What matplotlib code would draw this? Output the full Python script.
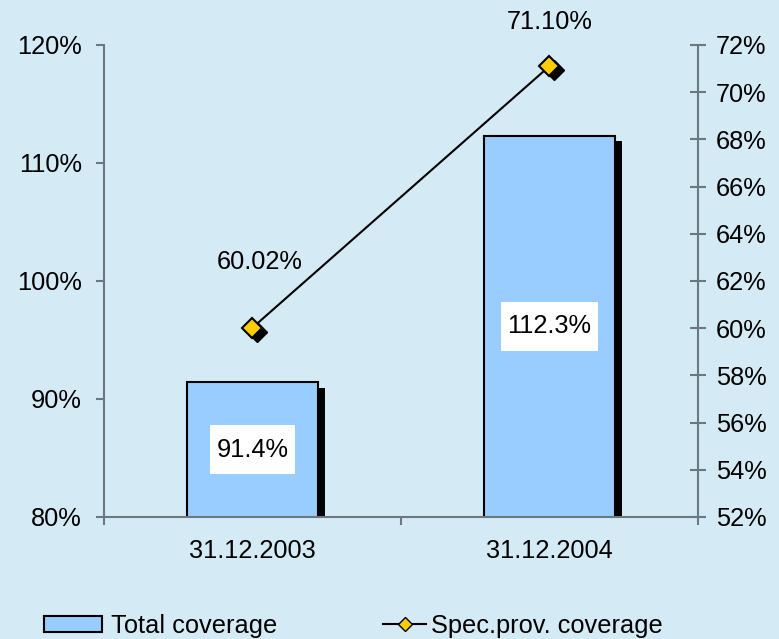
import matplotlib.pyplot as plt
import numpy as np
from matplotlib.transforms import ScaledTranslation
from matplotlib.path import Path
from matplotlib.lines import Line2D
from matplotlib.patches import Patch

plt.rcParams['font.family'] = ['Liberation Sans', 'DejaVu Sans']
plt.rcParams['font.size'] = 18.3

# data
dates = ['31.12.2003', '31.12.2004']
total_cov = [91.4, 112.3]      # left axis, bars
spec_cov = [60.02, 71.10]      # right axis, line
left_ticks = [80, 90, 100, 110, 120]
right_ticks = list(range(52, 73, 2))

bg = '#d4eaf5'
grey = '#6b7880'
bar_col = '#99ccff'
gold = '#ffcc00'


# white label box, wider pad vertically than horizontally
def label_box(x0, y0, width, height, mutation_size):
    px, py = 0.26 * mutation_size, 0.5 * mutation_size
    xa, ya = x0 - px, y0 - py
    xb, yb = x0 + width + px, y0 + height + py
    return Path([(xa, ya), (xb, ya), (xb, yb), (xa, yb), (xa, ya)], closed=True)


fig = plt.figure(figsize=(7.79, 6.39), dpi=100, facecolor=bg)
ax = fig.add_axes([0.1335, 0.191, 0.7625, 0.7387])
ax.set_facecolor(bg)
x = np.arange(len(dates))

# bar shadows (offset black copies, clipped by the axes)
shadow = ax.bar(x, total_cov, width=0.44, bottom=0, color='black', zorder=1)
off = ScaledTranslation(5.5 / 72, -4 / 72, fig.dpi_scale_trans)
for p in shadow:
    p.set_transform(ax.transData + off)
ax.bar(x, total_cov, width=0.44, color=bar_col, edgecolor='black', lw=1.5, zorder=2)

for i, v in enumerate(total_cov):
    ax.text(i, (80 + v) / 2, f'{v:.1f}%', ha='center', va='center', zorder=3,
            bbox=dict(boxstyle=label_box, facecolor='white', edgecolor='none'))

ax.set_xlim(-0.5, 1.5)
ax.set_ylim(80, 120)
ax.set_yticks(left_ticks)
ax.set_yticklabels([f'{t}%' for t in left_ticks])
ax.set_xticks(x)
ax.set_xticklabels(dates)
ax.set_xticks([-0.5, 0.5, 1.5], minor=True)
ax.tick_params(axis='x', which='major', length=0, pad=16)
ax.tick_params(axis='x', which='minor', length=5.8, width=1.5, color=grey, direction='out')
ax.tick_params(axis='y', length=5.8, width=1.5, color=grey, direction='out', pad=10)
for s in ['top', 'right']:
    ax.spines[s].set_visible(False)
for s in ['left', 'bottom']:
    ax.spines[s].set_color(grey)
    ax.spines[s].set_linewidth(1.5)
ax.spines['left'].set_bounds(80, 120)

ax2 = ax.twinx()
ax2.set_ylim(52, 72)
ax2.set_yticks(right_ticks)
ax2.set_yticklabels([f'{t}%' for t in right_ticks])
ax2.tick_params(axis='y', length=11.5, width=1.5, color=grey, direction='inout', pad=7)
for s in ['top', 'left', 'bottom']:
    ax2.spines[s].set_visible(False)
ax2.spines['right'].set_color(grey)
ax2.spines['right'].set_linewidth(1.5)

ax2.plot(x, spec_cov, color='black', lw=1.5, zorder=3)
moff = ScaledTranslation(3 / 72, -3 / 72, fig.dpi_scale_trans)
ax2.plot(x, spec_cov, ls='none', marker='D', ms=10, color='black',
         transform=ax2.transData + moff, zorder=4)
ax2.plot(x, spec_cov, ls='none', marker='D', ms=10, mfc=gold, mec='black',
         mew=1.5, zorder=5)

label_offsets = [(5, 47), (0, 32)]
for i, v in enumerate(spec_cov):
    ax2.annotate(f'{v:.2f}%', (i, v), xytext=label_offsets[i], textcoords='offset points',
                 ha='center', va='center', annotation_clip=False)

# legend at the bottom, two separate entries
h1 = Patch(facecolor=bar_col, edgecolor='black', lw=1.5)
h2 = Line2D([], [], color='black', lw=1.5, marker='D', ms=7.5, mfc=gold, mec='black')
fig.legend([h1], ['Total coverage'], loc='center left', bbox_to_anchor=(44 / 779, 0.02),
           frameon=False, borderpad=0, borderaxespad=0, handlelength=2.3,
           handleheight=0.56, handletextpad=0.32)
fig.legend([h2], ['Spec.prov. coverage'], loc='center left', bbox_to_anchor=(383 / 779, 0.02),
           frameon=False, borderpad=0, borderaxespad=0, handlelength=1.7,
           handletextpad=0.2)

fig.savefig('out.png', dpi=100, facecolor=bg)
